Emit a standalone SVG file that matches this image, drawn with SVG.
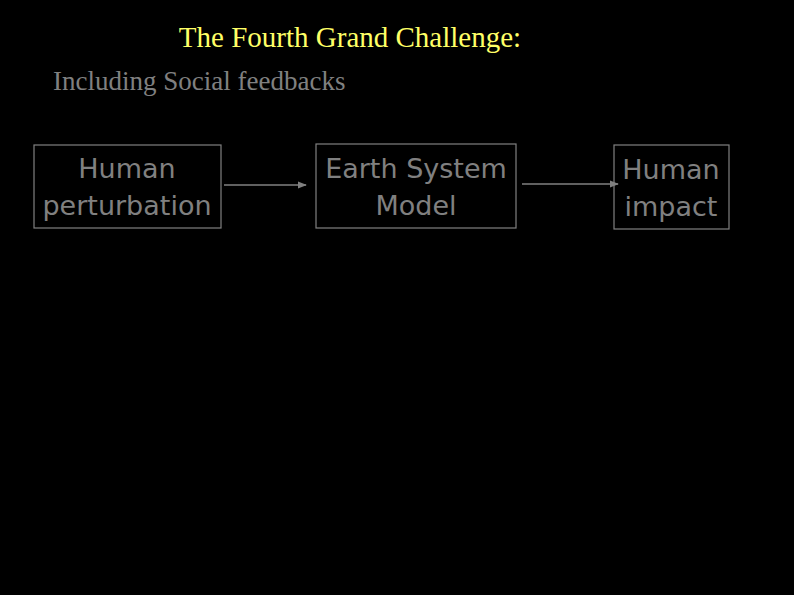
<svg xmlns="http://www.w3.org/2000/svg" width="794" height="595" viewBox="0 0 794 595">
<style>
.b{fill:none;stroke:#808080;stroke-width:1.2}
.t{font-family:"DejaVu Sans",sans-serif;font-size:27px;fill:#808080;text-anchor:middle}
.c{stroke:#808080;stroke-width:1.5;fill:none;marker-end:url(#a)}
</style>
<defs><marker id="a" viewBox="0 0 10 10" refX="9" refY="5" markerWidth="6" markerHeight="6" orient="auto"><path d="M0,1L10,5L0,9z" fill="#808080"/></marker></defs>
<rect width="794" height="595" fill="#000"/>
<text x="350" y="47" font-family="Liberation Serif,serif" font-size="29" fill="#ffff66" text-anchor="middle">The Fourth Grand Challenge:</text>
<text x="53" y="90" font-family="Liberation Serif,serif" font-size="27" fill="#808080">Including Social feedbacks</text>
<g id="n1"><rect class="b" x="34" y="145" width="187" height="83"/><text class="t" x="127" y="178">Human</text><text class="t" x="127" y="215">perturbation</text></g>
<g id="n2"><rect class="b" x="316" y="144" width="200" height="84"/><text class="t" x="416" y="178">Earth System</text><text class="t" x="416" y="215">Model</text></g>
<g id="n3"><rect class="b" x="614" y="145" width="115" height="84"/><text class="t" x="671" y="179">Human</text><text class="t" x="671" y="216">impact</text></g>
<g id="edges"><line class="c" x1="224" y1="185" x2="306" y2="185"/><line class="c" x1="522" y1="184" x2="618" y2="184"/></g>
</svg>
